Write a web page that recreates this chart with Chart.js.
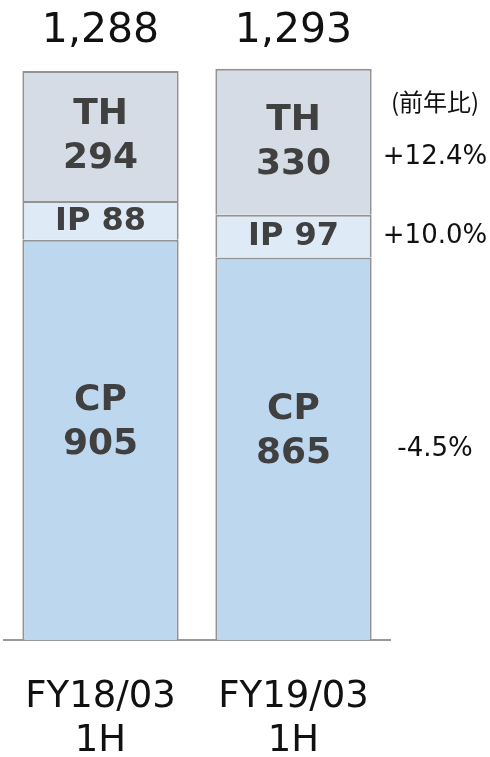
<!DOCTYPE html>
<html>
<head>
<meta charset="utf-8">
<script src="https://cdn.jsdelivr.net/npm/chart.js@4"></script>
<style>
  html, body { margin: 0; padding: 0; background: #fff; }
  #wrap { width: 490px; height: 757px; }
</style>
</head>
<body>
<div id="wrap"><canvas id="myChart"></canvas></div>
<script>
const categories = [["FY18/03", "1H"], ["FY19/03", "1H"]];
const segmentNames = ["CP", "IP", "TH"];
const cpValues = [905, 865];
const ipValues = [88, 97];
const thValues = [294, 330];
const totals = ["1,288", "1,293"];
const growth = ["-4.5%", "+10.0%", "+12.4%"];   // CP, IP, TH
const growthTitle = "(前年比)";

const FONT = "'DejaVu Sans', Verdana, sans-serif";

const segmentLabels = {
    id: "segmentLabels",
    afterDatasetsDraw(chart) {
        const ctx = chart.ctx;
        const area = chart.chartArea;
        ctx.save();
        ctx.textAlign = "center";
        ctx.textBaseline = "middle";

        chart.data.datasets.forEach(function (ds, i) {
            const meta = chart.getDatasetMeta(i);
            meta.data.forEach(function (bar, j) {
                const mid = (bar.y + bar.base) / 2;
                ctx.fillStyle = "#404040";
                if (ds.label === "IP") {
                    ctx.font = "bold 32px " + FONT;
                    ctx.fillText(ds.label + " " + ds.data[j], bar.x, mid + 1);
                } else {
                    const c = ds.label === "CP" ? mid - 17 : mid + 1;
                    ctx.font = "bold 36px " + FONT;
                    ctx.fillText(ds.label, bar.x, c - 22);
                    ctx.fillText(String(ds.data[j]), bar.x, c + 22);
                }
            });

            // year-on-year change, right of the last bar
            const last = meta.data[meta.data.length - 1];
            const lastMid = (last.y + last.base) / 2;
            const gy = ds.label === "TH" ? lastMid + 16 : lastMid;
            ctx.fillStyle = "#111";
            ctx.font = "26px " + FONT;
            ctx.fillText(growth[i], area.right + 45, gy);
            if (ds.label === "TH") {
                ctx.font = "24px 'Noto Sans CJK JP', " + FONT;
                ctx.fillText(growthTitle, area.right + 45, gy - 56);
            }
        });

        // totals above the stacks
        const top = chart.getDatasetMeta(chart.data.datasets.length - 1).data;
        const minTop = Math.min.apply(null, top.map(b => b.y));
        ctx.fillStyle = "#111";
        ctx.font = "41px " + FONT;
        top.forEach(function (bar, j) {
            ctx.fillText(totals[j], bar.x, minTop - 37);
        });
        ctx.restore();
    }
};

const ctx = document.getElementById("myChart");

new Chart(ctx, {
    type: "bar",
    data: {
        labels: categories,
        datasets: [
            { label: segmentNames[0], data: cpValues, backgroundColor: "#bdd7ee" },
            { label: segmentNames[1], data: ipValues, backgroundColor: "#deebf7" },
            { label: segmentNames[2], data: thValues, backgroundColor: "#d6dce5" }
        ]
    },
    options: {
        responsive: true,
        maintainAspectRatio: false,
        animation: false,
        layout: { padding: { top: 21, left: 4, right: 100, bottom: 0 } },
        datasets: {
            bar: {
                borderColor: "#939393",
                borderWidth: 2,
                barPercentage: 0.81,
                categoryPercentage: 1.0
            }
        },
        plugins: {
            legend: { display: false },
            tooltip: { enabled: false }
        },
        scales: {
            x: {
                stacked: true,
                grid: { display: false, tickLength: 35 },
                border: { display: true, color: "#999999", width: 2 },
                ticks: {
                    color: "#111",
                    padding: 0,
                    font: { family: FONT, size: 37 }
                },
                afterFit: function (scale) { scale.height = 117; }
            },
            y: {
                stacked: true,
                display: false,
                min: 0,
                max: 1400
            }
        }
    },
    plugins: [segmentLabels]
});
</script>
</body>
</html>
